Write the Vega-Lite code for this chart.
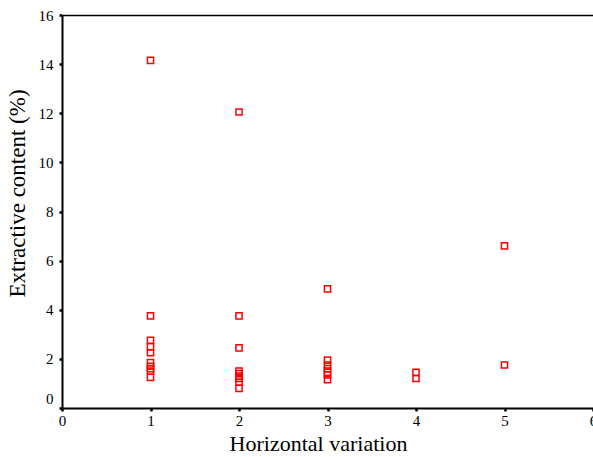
{
  "$schema": "https://vega.github.io/schema/vega-lite/v6.json",
  "width": 531,
  "height": 393,
  "autosize": {"type": "none"},
  "padding": {"left": 62, "top": 15, "right": 0, "bottom": 49},
  "background": "white",
  "config": {
    "view": {"stroke": null},
    "font": "Liberation Serif",
    "axis": {"labelFont": "Liberation Serif", "titleFont": "Liberation Serif"}
  },
  "data": {
    "values": [
      {"h": 1, "e": 14.15}, {"h": 1, "e": 3.75}, {"h": 1, "e": 2.75}, {"h": 1, "e": 2.5}, {"h": 1, "e": 2.25},
      {"h": 1, "e": 1.85}, {"h": 1, "e": 1.7}, {"h": 1, "e": 1.6}, {"h": 1, "e": 1.5}, {"h": 1, "e": 1.25},
      {"h": 2, "e": 12.05}, {"h": 2, "e": 3.75}, {"h": 2, "e": 2.45}, {"h": 2, "e": 1.5}, {"h": 2, "e": 1.4},
      {"h": 2, "e": 1.3}, {"h": 2, "e": 1.2}, {"h": 2, "e": 1.05}, {"h": 2, "e": 0.8},
      {"h": 3, "e": 4.85}, {"h": 3, "e": 1.95}, {"h": 3, "e": 1.75}, {"h": 3, "e": 1.6}, {"h": 3, "e": 1.45},
      {"h": 3, "e": 1.35}, {"h": 3, "e": 1.15},
      {"h": 4, "e": 1.45}, {"h": 4, "e": 1.2},
      {"h": 5, "e": 6.6}, {"h": 5, "e": 1.75}
    ]
  },
  "layer": [
    {
      "mark": {"type": "point", "shape": "square", "filled": false, "stroke": "#ff0000", "strokeWidth": 1.5, "size": 38, "opacity": 1},
      "encoding": {
        "x": {
          "field": "h", "type": "quantitative",
          "scale": {"domain": [0, 6], "nice": false, "zero": false},
          "axis": {
            "title": "Horizontal variation",
            "values": [0, 1, 2, 3, 4, 5, 6],
            "grid": false,
            "domainColor": "black", "domainWidth": 2,
            "tickColor": "black", "tickSize": 3, "tickWidth": 2.5,
            "labelFont": "Liberation Serif", "labelFontSize": 15, "labelColor": "black",
            "labelPadding": 2, "labelFlush": false, "labelOverlap": false,
            "titleFont": "Liberation Serif", "titleFontSize": 22, "titleFontWeight": "normal", "titleColor": "black",
            "titlePadding": 5, "titleX": 256
          }
        },
        "y": {
          "field": "e", "type": "quantitative",
          "scale": {"domain": [0, 16], "nice": false},
          "axis": {
            "title": "Extractive content (%)",
            "values": [0, 2, 4, 6, 8, 10, 12, 14, 16],
            "grid": false,
            "domainColor": "black", "domainWidth": 2,
            "tickColor": "black", "tickSize": 3, "tickWidth": 2.5,
            "labelFont": "Liberation Serif", "labelFontSize": 15, "labelColor": "black",
            "labelPadding": 6, "labelFlush": false, "labelOverlap": false,
            "labelOffset": {"condition": {"test": "datum.value == 0", "value": -10}, "value": 0},
            "titleFont": "Liberation Serif", "titleFontSize": 23, "titleFontWeight": "normal", "titleColor": "black",
            "titlePadding": 9, "titleY": 178
          }
        }
      }
    },
    {
      "mark": {"type": "point", "opacity": 0},
      "encoding": {
        "x": {
          "field": "h", "type": "quantitative",
          "axis": {"orient": "top", "title": null, "labels": false, "ticks": false, "grid": false, "domainColor": "black", "domainWidth": 1.5}
        }
      }
    }
  ],
  "resolve": {"axis": {"x": "independent"}}
}
